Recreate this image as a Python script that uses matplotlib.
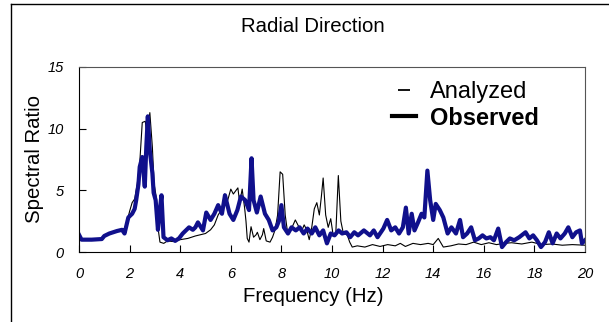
import matplotlib
matplotlib.use("Agg")
import matplotlib.pyplot as plt
from matplotlib.lines import Line2D

plt.rcParams['font.family'] = ['Liberation Sans', 'DejaVu Sans']

# Observed spectral ratio
obs_freq = [0.0, 0.1, 0.5, 0.9, 1.0, 1.2, 1.5, 1.7, 1.8, 1.95, 2.1, 2.2, 2.26, 2.35, 2.4,
            2.5, 2.55, 2.6, 2.66, 2.72, 2.8, 2.9, 2.95, 3.03, 3.12, 3.2, 3.26, 3.34, 3.5,
            3.65, 3.8, 3.95, 4.1, 4.35, 4.5, 4.6, 4.7, 4.9, 5.03, 5.2, 5.35, 5.5, 5.65,
            5.77, 5.95, 6.1, 6.26, 6.4, 6.57, 6.72, 6.82, 6.9, 7.03, 7.18, 7.35, 7.5,
            7.65, 7.8, 7.9, 8.0, 8.1, 8.26, 8.4, 8.57, 8.72, 8.88, 9.03, 9.2, 9.34, 9.5,
            9.65, 9.8, 9.95, 10.1, 10.26, 10.4, 10.57, 10.72, 10.88, 11.03, 11.26, 11.5,
            11.65, 11.8, 12.03, 12.18, 12.34, 12.5, 12.65, 12.8, 12.92, 13.03, 13.15,
            13.26, 13.4, 13.54, 13.65, 13.77, 13.88, 14.0, 14.1, 14.26, 14.4, 14.57,
            14.72, 14.9, 15.06, 15.18, 15.34, 15.5, 15.65, 15.8, 15.95, 16.1, 16.26,
            16.4, 16.57, 16.72, 16.88, 17.03, 17.2, 17.4, 17.65, 17.8, 17.95, 18.1,
            18.26, 18.42, 18.57, 18.72, 18.88, 19.03, 19.2, 19.34, 19.5, 19.65, 19.8,
            19.88, 20.0]
obs_ratio = [1.4, 1.0, 1.0, 1.05, 1.3, 1.5, 1.7, 1.8, 1.5, 2.8, 3.1, 3.5, 4.2, 5.5, 6.9,
             7.7, 6.5, 5.3, 8.5, 11.0, 8.2, 6.4, 4.8, 4.2, 1.8, 3.5, 4.6, 1.2, 0.95,
             1.1, 0.9, 1.1, 1.5, 2.0, 1.8, 2.0, 2.4, 1.75, 3.2, 2.6, 3.1, 3.8, 3.1,
             4.6, 3.1, 2.6, 3.4, 4.5, 4.2, 3.4, 7.6, 4.2, 3.2, 4.5, 3.1, 2.6,
             1.75, 2.0, 2.5, 3.8, 2.0, 1.5, 2.0, 1.75, 2.0, 1.5, 1.9, 1.5, 2.0, 1.35,
             1.75, 0.7, 1.5, 1.35, 1.75, 1.5, 1.6, 1.2, 1.6, 1.35, 1.75, 1.35,
             1.75, 1.2, 1.9, 2.6, 1.75, 2.0, 1.5, 2.0, 3.6, 1.5, 3.1,
             1.75, 2.4, 3.1, 2.8, 6.6, 4.2, 2.6, 3.9, 3.4, 2.8, 1.5,
             2.0, 1.5, 2.6, 1.2, 1.5, 2.0, 0.95, 1.1, 1.35, 1.1, 1.2,
             0.95, 1.9, 0.4, 0.8, 1.1, 0.95, 1.2, 1.6, 1.1, 1.35, 0.95,
             0.4, 0.8, 1.6, 0.7, 1.5, 1.1, 1.5, 2.0, 1.2, 1.6, 1.75,
             0.7, 0.95]

# Analyzed spectral ratio
ana_freq = [0.0, 0.9, 1.0, 1.3, 1.6, 1.8, 1.9, 2.0, 2.1, 2.2, 2.3, 2.4, 2.5, 2.62, 2.7,
            2.8, 2.9, 2.97, 3.05, 3.12, 3.2, 3.35, 3.5, 3.7, 4.0, 4.3, 4.6, 5.0, 5.2,
            5.35, 5.5, 5.65, 5.75, 5.85, 6.0, 6.1, 6.28, 6.35, 6.45, 6.55, 6.6, 6.65,
            6.72, 6.8, 6.9, 7.0, 7.05, 7.15, 7.25, 7.3, 7.4, 7.55, 7.65, 7.75, 7.85,
            7.95, 8.05, 8.15, 8.25, 8.4, 8.55, 8.7, 8.8, 8.9, 9.0, 9.1, 9.2, 9.3, 9.4,
            9.5, 9.58, 9.65, 9.75, 9.85, 9.95, 10.05, 10.15, 10.25, 10.35, 10.45, 10.6,
            10.7, 10.8, 11.0, 11.3, 11.6, 11.9, 12.2, 12.5, 12.7, 12.9, 13.2, 13.5,
            13.8, 14.0, 14.2, 14.4, 14.7, 15.0, 15.3, 15.6, 15.9, 16.2, 16.5, 16.8,
            17.1, 17.5, 17.9, 18.3, 18.7, 19.1, 19.5, 20.0]
ana_ratio = [1.0, 1.0, 1.3, 1.6, 1.75, 1.9, 2.5, 3.3, 4.0, 4.3, 5.5, 7.2, 10.5, 10.6, 9.2,
             11.3, 8.5, 5.5, 4.5, 2.0, 0.8, 0.7, 0.9, 0.85, 1.0, 1.1, 1.3, 1.5, 1.8,
             2.2, 3.0, 3.5, 4.7, 4.0, 5.1, 4.7, 5.2, 4.0, 5.1, 3.5, 2.5, 1.1,
             0.8, 2.05, 1.2, 1.4, 1.6, 1.0, 1.4, 1.9, 0.9, 0.8, 1.2, 1.8, 3.0,
             6.5, 6.3, 3.0, 1.5, 1.9, 2.6, 2.0, 1.7, 2.2, 1.8, 1.0, 2.0, 3.5, 4.0,
             3.0, 4.5, 6.0, 3.0, 2.0, 2.7, 1.3, 1.5, 6.2, 2.5, 1.5, 1.4,
             0.8, 0.4, 0.5, 0.4, 0.6, 0.45, 0.6, 0.5, 0.7, 0.45, 0.7, 0.6,
             0.7, 0.6, 1.1, 0.4, 0.5, 0.65, 0.6, 0.8, 0.6, 0.75, 0.6, 0.7,
             0.75, 0.65, 0.8, 0.6, 0.65, 0.55, 0.6, 0.55]

xticks = [0, 2, 4, 6, 8, 10, 12, 14, 16, 18, 20]
yticks = [0, 5, 10, 15]

fig = plt.figure(figsize=(6.09, 3.22), dpi=100)
ax = fig.add_axes([79 / 609, 1 - 252 / 322, 506 / 609, 185 / 322])

ax.plot(ana_freq, ana_ratio, color='black', lw=0.8)
ax.plot(obs_freq, obs_ratio, color='#10108c', lw=3.0, solid_joinstyle='round')

ax.set_xlim(0, 20)
ax.set_ylim(0, 15)
ax.set_xticks(xticks)
ax.set_yticks(yticks)
ax.tick_params(direction='in', length=5, width=0.8, labelsize=10.5, pad=11)
for lab in ax.get_xticklabels() + ax.get_yticklabels():
    lab.set_fontstyle('italic')
for s in ['top', 'right']:
    ax.spines[s].set_color('#555555')

handles = [Line2D([], [], color='black', lw=0, marker='_', markersize=9, markeredgewidth=1.3),
           Line2D([], [], color='black', lw=3)]
leg = ax.legend(handles, ['Analyzed', 'Observed'], loc='upper left',
                bbox_to_anchor=(392 / 609, 1 - 81 / 322), bbox_transform=fig.transFigure,
                frameon=False, fontsize=17, handlelength=1.0, handletextpad=0.6,
                borderpad=0, borderaxespad=0, labelspacing=0.15)
leg.get_texts()[1].set_fontweight('bold')

fig.text(313 / 609, 1 - 27 / 322, 'Radial Direction', ha='center', va='center', fontsize=14.7)
fig.text(313 / 609, 1 - 296 / 322, 'Frequency (Hz)', ha='center', va='center', fontsize=14.7)
fig.text(34 / 609, 1 - 159 / 322, 'Spectral Ratio', ha='center', va='center',
         rotation=90, fontsize=14.7)

# outer frame (left and top edges only)
fig.add_artist(Line2D([11 / 609, 11 / 609], [0, 1 - 4 / 322], color='black', lw=1,
                      transform=fig.transFigure))
fig.add_artist(Line2D([11 / 609, 1], [1 - 4 / 322, 1 - 4 / 322], color='black', lw=1,
                      transform=fig.transFigure))

fig.savefig('out.png', dpi=100)
